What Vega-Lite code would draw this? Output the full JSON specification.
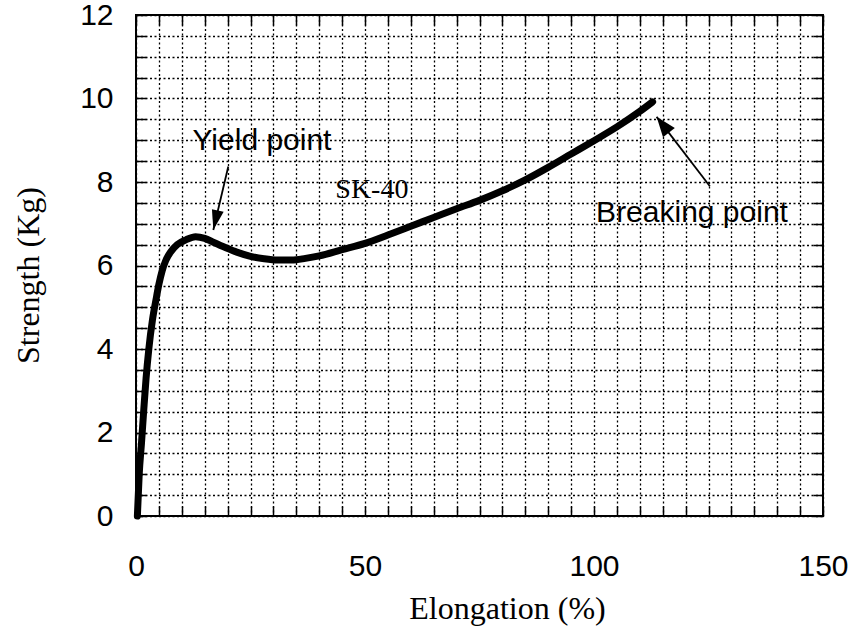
{
  "$schema": "https://vega.github.io/schema/vega-lite/v6.json",
  "width": 687,
  "height": 501,
  "autosize": {"type": "none"},
  "padding": {"left": 136, "top": 15, "right": 28, "bottom": 122},
  "background": "white",
  "config": {
    "view": {"stroke": "#000", "strokeWidth": 2},
    "axis": {"labelFont": "Liberation Sans", "titleFont": "Liberation Serif", "labelColor": "#000", "titleColor": "#000", "titleFontWeight": "normal"}
  },
  "datasets": {
    "curve": [
      {"elongation": 0.3, "strength": 0},
      {"elongation": 0.7, "strength": 1.0},
      {"elongation": 1.2, "strength": 1.75},
      {"elongation": 1.7, "strength": 2.55},
      {"elongation": 2.2, "strength": 3.3},
      {"elongation": 2.8, "strength": 4.0},
      {"elongation": 3.6, "strength": 4.7},
      {"elongation": 4.4, "strength": 5.2},
      {"elongation": 5.0, "strength": 5.55},
      {"elongation": 5.7, "strength": 5.87},
      {"elongation": 6.5, "strength": 6.12},
      {"elongation": 7.6, "strength": 6.33},
      {"elongation": 9.0, "strength": 6.5},
      {"elongation": 11, "strength": 6.62},
      {"elongation": 13, "strength": 6.69},
      {"elongation": 15, "strength": 6.65},
      {"elongation": 17, "strength": 6.55},
      {"elongation": 19.5, "strength": 6.43},
      {"elongation": 22, "strength": 6.32},
      {"elongation": 25, "strength": 6.22},
      {"elongation": 28, "strength": 6.16},
      {"elongation": 31, "strength": 6.13},
      {"elongation": 34, "strength": 6.13},
      {"elongation": 37, "strength": 6.17},
      {"elongation": 40, "strength": 6.23},
      {"elongation": 45, "strength": 6.38},
      {"elongation": 50, "strength": 6.53},
      {"elongation": 55, "strength": 6.73},
      {"elongation": 60, "strength": 6.94},
      {"elongation": 65, "strength": 7.15},
      {"elongation": 70, "strength": 7.36},
      {"elongation": 75, "strength": 7.56},
      {"elongation": 80, "strength": 7.79},
      {"elongation": 85, "strength": 8.05},
      {"elongation": 90, "strength": 8.35},
      {"elongation": 95, "strength": 8.67},
      {"elongation": 100, "strength": 8.99},
      {"elongation": 105, "strength": 9.32},
      {"elongation": 110, "strength": 9.69},
      {"elongation": 112.8, "strength": 9.92}
    ],
    "arrows": [
      {"name": "yield", "x1": 20.15, "y1": 8.37, "x2": 16.88, "y2": 6.85},
      {"name": "breaking", "x1": 125.3, "y1": 7.9, "x2": 113.67, "y2": 9.56}
    ],
    "labels": [
      {"text": "Yield point", "x": 27.5, "y": 8.98, "kind": "sans"},
      {"text": "Breaking point", "x": 121.4, "y": 7.26, "kind": "sans"},
      {"text": "SK-40", "x": 51.5, "y": 7.81, "kind": "serif"}
    ]
  },
  "resolve": {"axis": {"x": "independent", "y": "independent"}},
  "layer": [
    {
      "data": {"name": "curve"},
      "mark": {"type": "line", "color": "#000", "strokeWidth": 7, "strokeCap": "round", "strokeJoin": "round", "interpolate": "monotone"},
      "encoding": {
        "x": {
          "field": "elongation", "type": "quantitative",
          "scale": {"domain": [0, 150], "nice": false, "zero": false},
          "axis": {
            "orient": "bottom",
            "title": "Elongation (%)",
            "titleFontSize": 32,
            "titleX": 371,
            "titleY": 92,
            "titleBaseline": "middle",
            "values": [0,5,10,15,20,25,30,35,40,45,50,55,60,65,70,75,80,85,90,95,100,105,110,115,120,125,130,135,140,145,150],
            "labelExpr": "datum.value % 50 === 0 ? datum.label : ''",
            "labelFontSize": 30,
            "labelPadding": 45,
            "labelFlush": false,
            "labelOverlap": false,
            "tickSize": -10,
            "tickColor": "#000",
            "tickWidth": 1.5,
            "domain": false,
            "grid": true,
            "gridColor": "#000",
            "gridDash": [2, 2.5],
            "gridWidth": 1.3,
            "gridOpacity": 1
          }
        },
        "y": {
          "field": "strength", "type": "quantitative",
          "scale": {"domain": [0, 12], "nice": false, "zero": false},
          "axis": {
            "orient": "left",
            "title": "Strength (Kg)",
            "titleFontSize": 32,
            "titleX": -108,
            "titleY": 260,
            "titleBaseline": "middle",
            "values": [0,0.5,1,1.5,2,2.5,3,3.5,4,4.5,5,5.5,6,6.5,7,7.5,8,8.5,9,9.5,10,10.5,11,11.5,12],
            "labelExpr": "datum.value % 2 === 0 ? format(datum.value, 'd') : ''",
            "labelFontSize": 30,
            "labelPadding": 33,
            "labelFlush": false,
            "labelOverlap": false,
            "tickSize": -10,
            "tickColor": "#000",
            "tickWidth": 1.5,
            "domain": false,
            "grid": true,
            "gridColor": "#000",
            "gridDash": [2, 2.5],
            "gridWidth": 1.3,
            "gridOpacity": 1
          }
        }
      }
    },
    {
      "data": {"name": "arrows"},
      "mark": {"type": "rule", "color": "#000", "strokeWidth": 1.8},
      "encoding": {
        "x": {"field": "x1", "type": "quantitative", "axis": {"orient": "top", "labels": false, "title": null, "grid": false, "domain": false, "tickSize": -10, "tickColor": "#000", "tickWidth": 1.5, "values": [0,5,10,15,20,25,30,35,40,45,50,55,60,65,70,75,80,85,90,95,100,105,110,115,120,125,130,135,140,145,150]}},
        "y": {"field": "y1", "type": "quantitative", "axis": {"orient": "right", "labels": false, "title": null, "grid": false, "domain": false, "tickSize": -10, "tickColor": "#000", "tickWidth": 1.5, "values": [0,0.5,1,1.5,2,2.5,3,3.5,4,4.5,5,5.5,6,6.5,7,7.5,8,8.5,9,9.5,10,10.5,11,11.5,12]}},
        "x2": {"field": "x2"},
        "y2": {"field": "y2"}
      }
    },
    {
      "data": {"name": "arrows"},
      "transform": [{"filter": "datum.name === 'yield'"}],
      "mark": {"type": "point", "shape": "M0,0L0.6,2L-0.6,2Z", "filled": true, "color": "#000", "opacity": 1, "size": 400, "angle": 193},
      "encoding": {
        "x": {"field": "x2", "type": "quantitative", "axis": null},
        "y": {"field": "y2", "type": "quantitative", "axis": null}
      }
    },
    {
      "data": {"name": "arrows"},
      "transform": [{"filter": "datum.name === 'breaking'"}],
      "mark": {"type": "point", "shape": "M0,0L0.75,2L-0.75,2Z", "filled": true, "color": "#000", "opacity": 1, "size": 400, "angle": 322},
      "encoding": {
        "x": {"field": "x2", "type": "quantitative", "axis": null},
        "y": {"field": "y2", "type": "quantitative", "axis": null}
      }
    },
    {
      "data": {"name": "labels"},
      "transform": [{"filter": "datum.kind === 'sans'"}],
      "mark": {"type": "text", "font": "Liberation Sans", "fontSize": 30, "color": "#000", "align": "center", "baseline": "middle"},
      "encoding": {
        "x": {"field": "x", "type": "quantitative", "axis": null},
        "y": {"field": "y", "type": "quantitative", "axis": null},
        "text": {"field": "text"}
      }
    },
    {
      "data": {"name": "labels"},
      "transform": [{"filter": "datum.kind === 'serif'"}],
      "mark": {"type": "text", "font": "Liberation Serif", "fontSize": 28, "color": "#000", "align": "center", "baseline": "middle"},
      "encoding": {
        "x": {"field": "x", "type": "quantitative", "axis": null},
        "y": {"field": "y", "type": "quantitative", "axis": null},
        "text": {"field": "text"}
      }
    }
  ]
}
